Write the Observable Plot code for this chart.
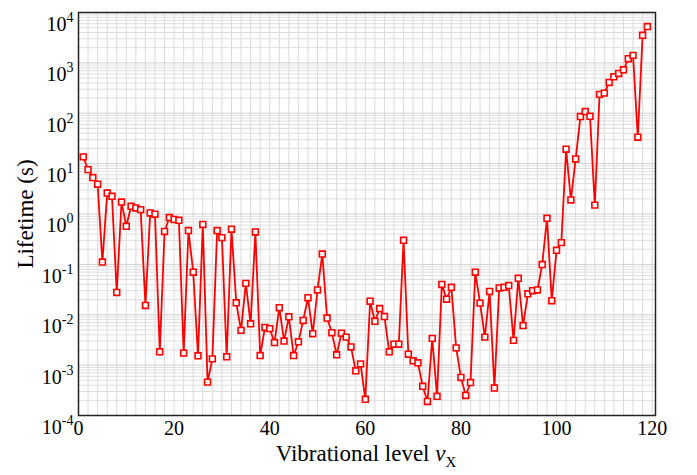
<!DOCTYPE html>
<html><head><meta charset="utf-8">
<script src="https://cdn.jsdelivr.net/npm/d3@7"></script>
<script src="https://cdn.jsdelivr.net/npm/@observablehq/plot@0.6"></script>
<style>body{margin:0;background:#fff}</style>
</head><body><div id="chart"></div>
<script>
const levels = [1,2,3,4,5,6,7,8,9,10,11,12,13,14,15,16,17,18,19,20,21,22,23,24,25,26,27,28,29,30,31,32,33,34,35,36,37,38,39,40,41,42,43,44,45,46,47,48,49,50,51,52,53,54,55,56,57,58,59,60,61,62,63,64,65,66,67,68,69,70,71,72,73,74,75,76,77,78,79,80,81,82,83,84,85,86,87,88,89,90,91,92,93,94,95,96,97,98,99,100,101,102,103,104,105,106,107,108,109,110,111,112,113,114,115,116,117,118,119];
const lifetimes = [13.6,7.6,5.3,3.9,0.111,2.6,2.25,0.0277,1.73,0.57,1.42,1.32,1.22,0.0153,1.05,0.99,0.00184,0.45,0.85,0.78,0.75,0.00173,0.47,0.070,0.00153,0.62,0.00046,0.00133,0.47,0.34,0.00146,0.50,0.0173,0.0049,0.042,0.0066,0.44,0.00155,0.0056,0.0053,0.0028,0.0138,0.0030,0.0091,0.00155,0.0029,0.0077,0.0218,0.0042,0.031,0.16,0.0086,0.0044,0.0016,0.0043,0.0036,0.0023,0.00077,0.00106,0.00021,0.0186,0.0074,0.0133,0.0092,0.00184,0.0026,0.0026,0.30,0.00165,0.00122,0.00111,0.00038,0.00019,0.0034,0.00024,0.040,0.0204,0.035,0.0022,0.00057,0.00025,0.00045,0.070,0.0170,0.0036,0.029,0.00035,0.034,0.035,0.038,0.0031,0.053,0.0061,0.026,0.030,0.031,0.099,0.82,0.019,0.19,0.27,19.3,1.9,12.4,86,108,87,1.5,237,251,409,530,618,729,1208,1410,33.5,3520,5270];
const xTicks = [0,20,40,60,80,100,120];
const yExponents = [-4,-3,-2,-1,0,1,2,3,4];
const yTitle = "Lifetime (s)";
const xTitle = "Vibrational level ";
const xTitleVar = "v";
const xTitleSub = "X";

// pick the first installed serif face
const candidates = ["Liberation Serif", "Times New Roman", "Tinos", "DejaVu Serif", "Noto Serif", "Nimbus Roman", "Times", "FreeSerif"];
const ctx = document.createElement("canvas").getContext("2d");
function w(f) { ctx.font = "40px " + f; return ctx.measureText("Vibrational level 0123456789 Wm").width; }
let chosen = "serif";
for (const c of candidates) {
  if (w(`"${c}", monospace`) === w(`"${c}", sans-serif`) && w(`"${c}", monospace`) !== w("monospace")) { chosen = `"${c}"`; break; }
}
const FONT = chosen + ", serif";

const data = levels.map((v, i) => ({v, t: lifetimes[i]}));
const decades = yExponents.map(e => Math.pow(10, e));
const minor = [];
for (const e of yExponents.slice(0, -1)) for (let m = 2; m <= 9; m++) minor.push(m * Math.pow(10, e));
const xGrid = d3.range(0, 121, 2);

const chart = Plot.plot({
  width: 697, height: 475,
  marginLeft: 78, marginRight: 42, marginTop: 12, marginBottom: 60,
  x: {domain: [0, 120.7]},
  y: {type: "log", domain: [1e-4, 1e4]},
  style: {fontFamily: FONT, fontSize: "20px", color: "#000", background: "#fff"},
  marks: [
    Plot.gridX(xGrid, {stroke: "#d9d9d9", strokeOpacity: 1}),
    Plot.gridY(minor, {stroke: "#dedede", strokeOpacity: 1}),
    Plot.gridY(decades, {stroke: "#cfcfcf", strokeOpacity: 1}),
    Plot.line(data, {x: "v", y: "t", stroke: "#ff0000", strokeWidth: 1.8}),
    Plot.dot(data, {x: "v", y: "t", symbol: "square", r: 3.3, stroke: "#ff0000", fill: "#fff", strokeWidth: 1.6}),
    Plot.frame({stroke: "#222", strokeWidth: 1.5}),
    Plot.axisX({ticks: xTicks, tickSize: 0, tickPadding: 5, tickFormat: d => String(d), label: null, fontSize: 20}),
    Plot.axisY({ticks: decades, tickSize: 0, tickPadding: 5, tickFormat: d => String(Math.round(Math.log10(d))), label: null, fontSize: 20})
  ]
});
document.getElementById("chart").appendChild(chart);

const svg = d3.select(chart);
svg.selectAll('g[aria-label="y-axis tick label"] text').each(function() {
  const t = d3.select(this);
  const e = t.text();
  t.text("10").attr("dy", "0.6em");
  t.append("tspan").attr("dy", -9).attr("font-size", 14).text(e);
});
svg.append("text")
  .attr("transform", "translate(25,214) rotate(-90)")
  .attr("text-anchor", "middle")
  .attr("dy", "0.35em")
  .attr("font-size", 23)
  .attr("fill", "#000")
  .text(yTitle);
const xt = svg.append("text")
  .attr("x", 366).attr("y", 461)
  .attr("text-anchor", "middle")
  .attr("font-size", 23)
  .attr("fill", "#000")
  .text(xTitle);
xt.append("tspan").attr("font-style", "italic").text(xTitleVar);
xt.append("tspan").attr("font-size", 15).attr("dy", 6).text(xTitleSub);
svg.selectAll("text").style("font-family", FONT);
</script>
</body></html>
